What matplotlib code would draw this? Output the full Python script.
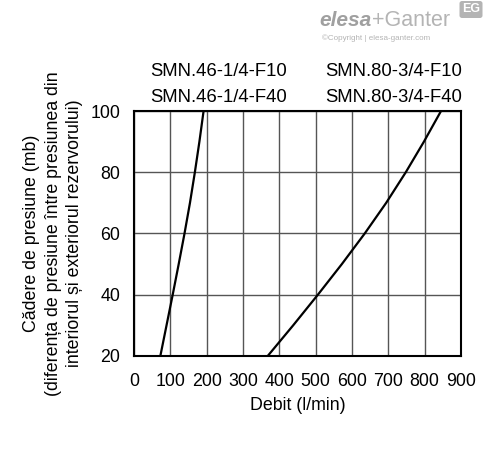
import numpy as np
import matplotlib.pyplot as plt

plt.rcParams["font.family"] = ["Liberation Sans", "DejaVu Sans"]

# curve points: flow (l/min) at each pressure drop (mb)
dp_levels = [20, 30, 40, 50, 60, 70, 80, 90, 100]
smn46_flow = [72.5, 89.5, 106.5, 123, 139, 154, 167.5, 180, 191.5]
smn80_flow = [368, 438, 506, 572, 635, 694, 748, 798, 845]

xticks = np.arange(0, 1000, 100)
yticks = np.arange(20, 120, 20)

fig = plt.figure(figsize=(4.88, 4.54), dpi=100)
ax = fig.add_axes([0.2746, 0.2159, 0.6701, 0.5396])

ax.plot(smn46_flow, dp_levels, color="black", lw=1.6)
ax.plot(smn80_flow, dp_levels, color="black", lw=1.6)

ax.set_xlim(0, 900)
ax.set_ylim(20, 100)
ax.set_xticks(xticks)
ax.set_yticks(yticks)
ax.grid(True, color="#555555", lw=1.0)
ax.set_axisbelow(True)
ax.tick_params(length=0, labelsize=12.8)
ax.tick_params(axis="x", pad=12)
ax.tick_params(axis="y", pad=10)
for s in ax.spines.values():
    s.set_linewidth(1.5)
    s.set_color("black")

ax.set_xlabel("Debit (l/min)", fontsize=12.8, labelpad=5)
ax.set_ylabel("Cădere de presiune (mb)\n(diferența de presiune între presiunea din\ninteriorul și exteriorul rezervorului)",
              fontsize=12.8, labelpad=5, linespacing=1.35)

# series labels above the plot
fig.text(219 / 488, 1 - 71 / 454, "SMN.46-1/4-F10", ha="center", va="center", fontsize=13.3)
fig.text(219 / 488, 1 - 97 / 454, "SMN.46-1/4-F40", ha="center", va="center", fontsize=13.3)
fig.text(394 / 488, 1 - 71 / 454, "SMN.80-3/4-F10", ha="center", va="center", fontsize=13.3)
fig.text(394 / 488, 1 - 97 / 454, "SMN.80-3/4-F40", ha="center", va="center", fontsize=13.3)

# watermark logo
fig.text(372 / 488, 1 - 21 / 454, "elesa", ha="right", va="center",
         fontsize=15, color="#a0a0a0", fontweight="bold", style="italic")
fig.text(372 / 488, 1 - 21 / 454, "+Ganter", ha="left", va="center",
         fontsize=15.5, color="#b4b4b4")
fig.text(322 / 488, 1 - 38.5 / 454, "©Copyright | elesa-ganter.com", ha="left", va="center",
         fontsize=5.8, color="#b4b4b4")
fig.text(471 / 488, 1 - 9.5 / 454, "EG", ha="center", va="center", fontsize=9,
         color="white", fontweight="bold",
         bbox=dict(boxstyle="round,pad=0.2", fc="#b4b4b4", ec="none"))

fig.savefig("out.png", dpi=100)
